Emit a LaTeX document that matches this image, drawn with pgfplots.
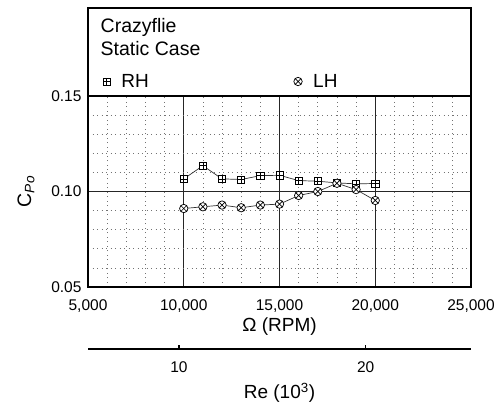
\documentclass[border=0pt]{standalone}
\usepackage{fontspec}
\setmainfont{Liberation Sans}
\usepackage{pgfplots}
\pgfplotsset{compat=1.18}
\usetikzlibrary{plotmarks}
\pgfdeclareplotmark{boxplus}{%
  \pgfpathrectangle{\pgfpoint{-\pgfplotmarksize}{-\pgfplotmarksize}}{\pgfpoint{2\pgfplotmarksize}{2\pgfplotmarksize}}%
  \pgfusepathqfillstroke
  \pgfpathmoveto{\pgfpoint{-\pgfplotmarksize}{0pt}}\pgfpathlineto{\pgfpoint{\pgfplotmarksize}{0pt}}%
  \pgfpathmoveto{\pgfpoint{0pt}{-\pgfplotmarksize}}\pgfpathlineto{\pgfpoint{0pt}{\pgfplotmarksize}}%
  \pgfusepathqstroke}
\begin{document}
\begin{tikzpicture}
\begin{axis}[
  at={(0pt,0pt)}, anchor=south west,
  scale only axis, width=383pt, height=191pt,
  xmin=5000, xmax=25000, ymin=0.05, ymax=0.15,
  xtick={5000,10000,15000,20000,25000},
  ytick={0.05,0.10,0.15},
  minor x tick num=4, minor y tick num=4,
  major tick length=0pt, minor tick length=0pt,
  scaled x ticks=false, scaled y ticks=false,
  xticklabel style={/pgf/number format/1000 sep={,}, /pgf/number format/assume math mode=true},
  yticklabel style={/pgf/number format/fixed, /pgf/number format/fixed zerofill, /pgf/number format/precision=2, /pgf/number format/assume math mode=true},
  tick label style={font=\fontsize{15.5}{18}\selectfont},
  xticklabel style={anchor=center, yshift=-19pt},
  yticklabel style={anchor=east, xshift=-3pt},
  grid=both,
  major grid style={black!85, line width=1.2pt},
  minor grid style={black!55, dash pattern=on 0.8pt off 3.7pt, line width=0.7pt},
  axis line style={black, line width=1.2pt},
  xlabel={\fontsize{19}{22}\selectfont Ω (RPM)},
  xlabel style={at={(axis description cs:0.5,0)}, anchor=center, yshift=-40pt},
  ylabel={\fontsize{19.5}{22}\selectfont C\textsubscript{\textit{Po}}},
  ylabel style={at={(axis description cs:0,0.5)}, anchor=center, rotate=0, yshift=62pt},
  clip=false,
  legend columns=2,
  legend image code/.code={\draw[only marks,#1] plot coordinates {(0pt,0pt)};},
  legend style={at={(rel axis cs:0,1)}, anchor=south west, xshift=12pt, yshift=3pt,
    draw=none, fill=none, font=\fontsize{19}{22}\selectfont,
    /tikz/every odd column/.append style={column sep=9pt},
    /tikz/every even column/.append style={column sep=143pt}},
]
\node[draw=black, line width=1.2pt, anchor=south west, minimum width=383pt, minimum height=88pt, inner sep=0pt, outer sep=0pt] at (rel axis cs:0,1) {};
\node[anchor=base west, inner sep=0pt, font=\fontsize{19.5}{22}\selectfont] at ([xshift=12.5pt, yshift=64pt]rel axis cs:0,1) {Crazyflie};
\node[anchor=base west, inner sep=0pt, font=\fontsize{19.5}{22}\selectfont] at ([xshift=12.5pt, yshift=41pt]rel axis cs:0,1) {Static Case};
\addplot[black!80, line width=0.7pt, mark=boxplus, mark size=3.6pt, mark options={solid, draw=black, fill=white}] coordinates {
(10000,0.1066) (11000,0.1135) (12000,0.1066) (13000,0.1063) (14000,0.1083)
(15000,0.1085) (16000,0.1057) (17000,0.1054) (18000,0.1045) (19000,0.1040) (20000,0.1042)};
\addlegendentry{RH}
\addplot[black!80, line width=0.7pt, mark=otimes*, mark size=4.2pt, mark options={solid, draw=black, fill=white}] coordinates {
(10000,0.0911) (11000,0.0920) (12000,0.0929) (13000,0.0915) (14000,0.0929)
(15000,0.0934) (16000,0.0979) (17000,0.1000) (18000,0.1043) (19000,0.1010) (20000,0.0953)};
\addlegendentry{LH}
\end{axis}
\begin{axis}[
  at={(0pt,-62pt)}, anchor=south west,
  scale only axis, width=383pt, height=1pt,
  xmin=5.128, xmax=25.64, ymin=0, ymax=1,
  axis x line*=bottom, hide y axis,
  xtick={10,20},
  tick align=inside, major tick length=4pt,
  tick style={black, line width=1.2pt},
  axis line style={black, line width=1.2pt},
  xticklabel style={/pgf/number format/assume math mode=true, font=\fontsize{15.5}{18}\selectfont, anchor=center, yshift=-18pt},
  xlabel={\fontsize{19}{22}\selectfont Re (10\textsuperscript{3})},
  xlabel style={at={(axis description cs:0.5,0)}, anchor=center, yshift=-44pt},
]
\end{axis}
\pgfresetboundingbox
\path (-88pt,-121pt) rectangle (412pt,287pt);
\end{tikzpicture}
\end{document}
